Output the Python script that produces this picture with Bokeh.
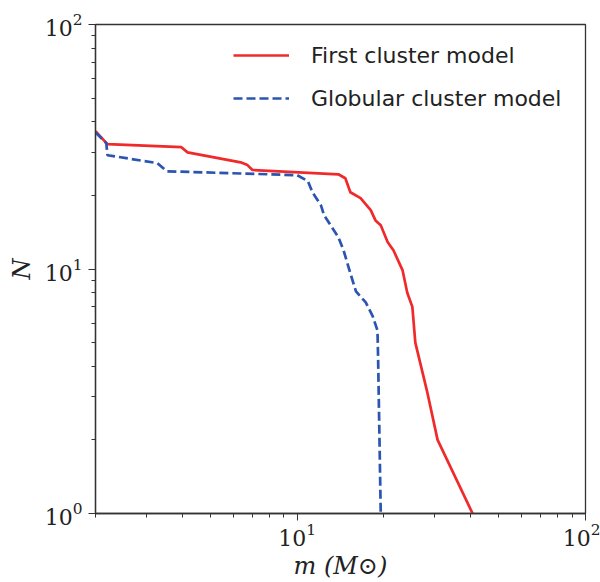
from bokeh.plotting import figure
from bokeh.models import Legend, LegendItem, Range1d, FixedTicker, LogTickFormatter
from bokeh.embed import file_html
from bokeh.resources import INLINE

# First cluster model (red, solid)
first_m = [2.0, 2.20, 3.97, 4.17, 6.37, 6.73, 7.0, 13.9, 14.7, 15.3, 16.6, 18.0,
           18.7, 19.5, 20.6, 21.6, 23.2, 24.1, 25.1, 25.7, 28.3, 30.7, 40.6]
first_n = [36.6, 32.4, 31.5, 30.0, 27.3, 26.6, 25.4, 24.4, 23.5, 20.6, 19.5, 17.4,
           15.8, 15.1, 12.9, 11.9, 9.9, 8.0, 7.0, 5.0, 3.12, 2.0, 1.0]

# Globular cluster model (blue, dashed)
glob_m = [2.0, 2.18, 2.20, 3.28, 3.53, 10.0, 10.9, 11.3, 12.1, 12.4, 13.9, 14.5,
          15.3, 16.0, 17.3, 18.3, 19.0, 19.1, 19.5]
glob_n = [36.2, 32.7, 29.2, 27.1, 25.1, 24.2, 22.9, 20.6, 18.2, 16.6, 13.5, 11.9,
          9.6, 8.1, 7.3, 6.4, 5.6, 4.25, 1.0]

major_ticks = [1, 10, 100]
minor_ticks = [2, 3, 4, 5, 6, 7, 8, 9, 20, 30, 40, 50, 60, 70, 80, 90]

legend_labels = ["First cluster model", "Globular cluster model"]
x_label = "m (M\u2299)"
y_label = "N"

p = figure(width=600, height=582, x_axis_type="log", y_axis_type="log",
           x_range=Range1d(2, 100), y_range=Range1d(1, 100),
           output_backend="svg", toolbar_location=None,
           min_border_left=95, min_border_right=15, min_border_top=24,
           min_border_bottom=68)

p.grid.visible = False
p.outline_line_color = "#333333"
p.outline_line_width = 1.3
p.background_fill_color = "white"
p.border_fill_color = "white"

r1 = p.line(first_m, first_n, line_color="#f02a2a", line_width=2.7)
r2 = p.line(glob_m, glob_n, line_color="#2b55b0", line_width=2.7, line_dash="9 4")

for ax in (p.xaxis[0], p.yaxis[0]):
    ax.ticker = FixedTicker(ticks=major_ticks, minor_ticks=minor_ticks)
    ax.formatter = LogTickFormatter()
    ax.axis_line_color = "#333333"
    ax.axis_line_width = 1.3
    ax.major_tick_line_color = "#333333"
    ax.minor_tick_line_color = "#333333"
    ax.major_tick_in = 0
    ax.major_tick_out = 7
    ax.minor_tick_in = 0
    ax.minor_tick_out = 4
    ax.major_label_text_font = "DejaVu Serif"
    ax.major_label_text_font_size = "22px"
    ax.major_label_text_color = "#222222"
    ax.axis_label_text_font = "DejaVu Serif"
    ax.axis_label_text_font_style = "italic"
    ax.axis_label_text_font_size = "24px"
    ax.axis_label_text_color = "#222222"

p.xaxis.axis_label = x_label
p.yaxis.axis_label = y_label
p.xaxis.axis_label_standoff = 3
p.yaxis.axis_label_standoff = 6
p.xaxis.major_label_standoff = 2
p.yaxis.major_label_standoff = 6

legend = Legend(items=[LegendItem(label=legend_labels[0], renderers=[r1]),
                       LegendItem(label=legend_labels[1], renderers=[r2])],
                location=(138, 402))
legend.border_line_alpha = 0
legend.background_fill_alpha = 0
legend.padding = 0
legend.margin = 0
legend.glyph_width = 56
legend.glyph_height = 26
legend.label_height = 26
legend.spacing = 17
legend.label_standoff = 22
legend.label_text_font = "DejaVu Sans"
legend.label_text_font_size = "22px"
legend.label_text_color = "#222222"
p.add_layout(legend)

open("out.html", "w").write(file_html(p, INLINE))
